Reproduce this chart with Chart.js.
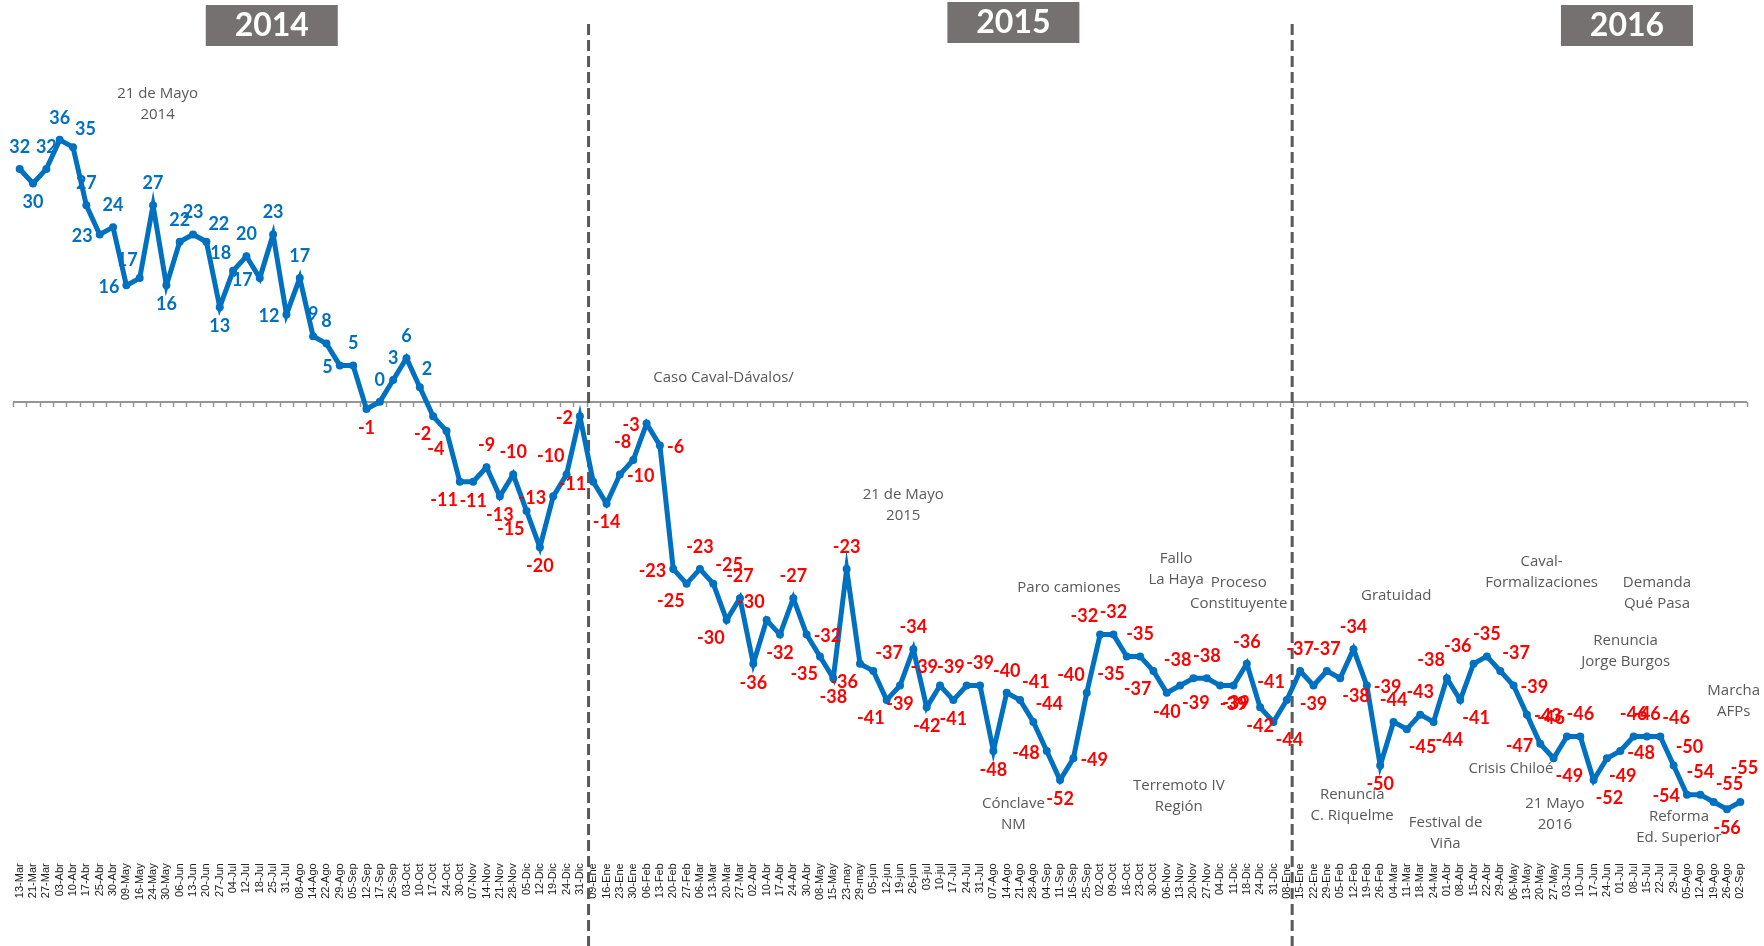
<!DOCTYPE html>
<html>
<head>
<meta charset="utf-8">
<script src="https://cdn.jsdelivr.net/npm/chart.js@4.4.1/dist/chart.umd.min.js"></script>
<style>
  html, body { margin: 0; padding: 0; background: #fff; }
</style>
</head>
<body>
<canvas id="myChart" width="1764" height="946"></canvas>
<script>
// Data

const labels2014 = ['13-Mar', '21-Mar', '27-Mar', '03-Abr', '10-Abr', '17-Abr', '25-Abr', '30-Abr', '09-May', '16-May',
  '24-May', '30-May', '06-Jun', '13-Jun', '20-Jun', '27-Jun', '04-Jul', '12-Jul', '18-Jul', '25-Jul', '31-Jul',
  '08-Ago', '14-Ago', '22-Ago', '29-Ago', '05-Sep', '12-Sep', '17-Sep', '26-Sep', '03-Oct', '10-Oct', '17-Oct',
  '24-Oct', '30-Oct', '07-Nov', '14-Nov', '21-Nov', '28-Nov', '05-Dic', '12-Dic', '19-Dic', '24-Dic', '31-Dic'];
const labels2015 = ['09-Ene', '16-Ene', '23-Ene', '30-Ene', '06-Feb', '13-Feb', '20-Feb', '27-Feb', '06-Mar', '13-Mar',
  '20-Mar', '27-Mar', '02-Abr', '10-Abr', '17-Abr', '24-Abr', '30-Abr', '08-May', '15-May', '23-may', '29-may',
  '05-jun', '12-jun', '19-jun', '26-jun', '03-jul', '10-jul', '17-Jul', '24-Jul', '31-Jul', '07-Ago', '14-Ago',
  '21-Ago', '28-Ago', '04-Sep', '11-Sep', '16-Sep', '25-Sep', '02-Oct', '09-Oct', '16-Oct', '23-Oct', '30-Oct',
  '06-Nov', '13-Nov', '20-Nov', '27-Nov', '04-Dic', '11-Dic', '18-Dic', '24-Dic', '31-Dic'];
const labels2016 = ['08-Ene', '15-Ene', '22-Ene', '29-Ene', '05-Feb', '12-Feb', '19-Feb', '26-Feb', '04-Mar', '11-Mar',
  '18-Mar', '24-Mar', '01-Abr', '08-Abr', '15-Abr', '22-Abr', '29-Abr', '06-May', '13-May', '20-May', '27-May',
  '03-Jun', '10-Jun', '17-Jun', '24-Jun', '01-Jul', '08-Jul', '15-Jul', '22-Jul', '29-Jul', '05-Ago', '12-Ago',
  '19-Ago', '26-Ago', '02-Sep'];

const values2014 = [32, 30, 32, 36, 35, 27, 23, 24, 16, 17, 27, 16, 22, 23, 22, 13, 18, 20, 17, 23, 12,
  17, 9, 8, 5, 5, -1, 0, 3, 6, 2, -2, -4, -11, -11, -9, -13, -10, -15, -20, -13, -10, -2];
const values2015 = [-11, -14, -10, -8, -3, -6, -23, -25, -23, -25, -30, -27, -36, -30, -32, -27, -32, -35, -38, -23,
  -36, -37, -41, -39, -34, -42, -39, -41, -39, -39, -48, -40, -41, -44, -48, -52, -49, -40, -32, -32,
  -35, -35, -37, -40, -39, -38, -38, -39, -39, -36, -42, -44];
const values2016 = [-41, -37, -39, -37, -38, -34, -39, -50, -44, -45, -43, -44, -38, -41, -36, -35, -37, -39, -43, -47,
  -49, -46, -46, -52, -49, -48, -46, -46, -46, -50, -54, -54, -55, -56, -55];

const years = ['2014', '2015', '2016'];

const categories = labels2014.concat(labels2015, labels2016);
const values = values2014.concat(values2015, values2016);

// Where each value label sits relative to its point (a=above, b=below, l=left, r=right, aa=well above)
const labelSide = (
  'a b a a ar a l a l al a b a a ar b al a l a l a a a l a b a a a ar bl bl bl b a b a bl b l al l ' +
  'l b r al l r l bl a ar bl a b al b a r bl b a bl ar bl b a b al b al a b a ar ar l b r al al a bl a bl b br al a br b a b br ' +
  'al a b a br a r b a br a br al br al a ar r r l br al a br br r a a ar ar l a ar b aa'
).split(' ');

// Decorations (category index / value coordinates)

const yearBoxes = [
  { text: years[0], at: 18.9, top: 5 },
  { text: years[1], at: 74.5, top: 2 },
  { text: years[2], at: 120.5, top: 5 }
];
const yearDividers = [42.65, 95.4];

const notes = [
  { lines: ['21 de Mayo', '2014'], x: 10.34, y: 42.3 },
  { lines: ['Caso Caval-Dávalos/'], x: 52.77, y: 3.26 },
  { lines: ['21 de Mayo', '2015'], x: 66.24, y: -12.83 },
  { lines: ['Paro camiones'], x: 78.67, y: -25.6 },
  { lines: ['Fallo', 'La Haya'], x: 86.7, y: -21.6 },
  { lines: ['Proceso', 'Constituyente'], x: 91.4, y: -24.9 },
  { lines: ['Cónclave', 'NM'], x: 74.5, y: -55.2 },
  { lines: ['Terremoto IV', 'Región'], x: 86.9, y: -52.8 },
  { lines: ['Renuncia', 'C. Riquelme'], x: 99.9, y: -54 },
  { lines: ['Gratuidad'], x: 103.2, y: -26.7 },
  { lines: ['Festival de', 'Viña'], x: 106.9, y: -57.8 },
  { lines: ['Caval-', 'Formalizaciones'], x: 114.1, y: -22.05 },
  { lines: ['Crisis Chiloé'], x: 111.8, y: -50.4 },
  { lines: ['21 Mayo', '2016'], x: 115.1, y: -55.3 },
  { lines: ['Demanda', 'Qué Pasa'], x: 122.75, y: -24.9 },
  { lines: ['Renuncia', 'Jorge Burgos'], x: 120.4, y: -32.8 },
  { lines: ['Marcha', 'AFPs'], x: 128.5, y: -39.75 },
  { lines: ['Reforma', 'Ed. Superior'], x: 124.4, y: -57.1 }
];

// Plugins

// zero axis line with tick marks between categories, plus dashed year dividers
const axisPlugin = {
  id: 'axisDecor',
  beforeDatasetsDraw(chart) {
    const ctx = chart.ctx;
    const xs = chart.scales.x;
    const ys = chart.scales.y;
    const y0 = Math.round(ys.getPixelForValue(0));
    ctx.save();
    ctx.strokeStyle = '#969696';
    ctx.lineWidth = 2;
    ctx.beginPath();
    ctx.moveTo(xs.left, y0);
    ctx.lineTo(xs.right, y0);
    ctx.stroke();
    ctx.lineWidth = 1.5;
    ctx.beginPath();
    for (let i = 0; i <= categories.length; i++) {
      const px = Math.round(xs.getPixelForValue(i - 0.5)) + 0.5;
      ctx.moveTo(px, y0);
      ctx.lineTo(px, y0 + 5);
    }
    ctx.stroke();

    ctx.strokeStyle = '#595959';
    ctx.lineWidth = 3;
    ctx.setLineDash([11, 5]);
    yearDividers.forEach(function (at) {
      const px = xs.getPixelForValue(at);
      ctx.beginPath();
      ctx.moveTo(px, 24);
      ctx.lineTo(px, chart.height);
      ctx.stroke();
    });
    ctx.restore();
  }
};

const pointLabelPlugin = {
  id: 'pointLabels',
  afterDatasetsDraw(chart) {
    const ctx = chart.ctx;
    const meta = chart.getDatasetMeta(0);
    ctx.save();
    ctx.font = 'bold 18px Lato';
    ctx.textAlign = 'center';
    ctx.textBaseline = 'middle';
    meta.data.forEach(function (pt, i) {
      const v = values[i];
      const txt = String(v);
      const half = ctx.measureText(txt).width / 2;
      const side = labelSide[i] || 'a';
      let dx = 0;
      let dy = 0;
      if (side === 'a') dy = -22;
      else if (side === 'aa') { dx = 4; dy = -34; }
      else if (side === 'b') dy = 19;
      else if (side === 'l') { dx = -(half + 7); dy = 2; }
      else if (side === 'r') { dx = half + 7; dy = 2; }
      else if (side === 'al') { dx = -(half + 2); dy = -18; }
      else if (side === 'ar') { dx = half + 2; dy = -18; }
      else if (side === 'bl') { dx = -(half + 2); dy = 18; }
      else if (side === 'br') { dx = half + 2; dy = 18; }
      ctx.fillStyle = v < 0 ? '#FF0000' : '#0070C0';
      ctx.fillText(txt, pt.x + dx, pt.y + dy);
    });
    ctx.restore();
  }
};

const decorPlugin = {
  id: 'decor',
  afterDraw(chart) {
    const ctx = chart.ctx;
    const xs = chart.scales.x;
    const ys = chart.scales.y;
    ctx.save();

    // year boxes
    yearBoxes.forEach(function (b) {
      const cx = xs.getPixelForValue(b.at);
      ctx.fillStyle = '#767171';
      ctx.fillRect(cx - 66, b.top, 132, 41);
      ctx.fillStyle = '#ffffff';
      ctx.font = 'bold 32px Lato';
      ctx.textAlign = 'center';
      ctx.textBaseline = 'middle';
      ctx.fillText(b.text, cx, b.top + 21);
    });

    // event notes
    ctx.fillStyle = '#595959';
    ctx.font = '15px "Open Sans"';
    ctx.textAlign = 'center';
    ctx.textBaseline = 'middle';
    notes.forEach(function (n) {
      const cx = xs.getPixelForValue(n.x);
      const cy = ys.getPixelForValue(n.y);
      n.lines.forEach(function (line, k) {
        ctx.fillText(line, cx, cy + k * 21);
      });
    });
    ctx.restore();
  }
};

// Chart

const ctx = document.getElementById('myChart').getContext('2d');
const myChart = new Chart(ctx, {
  type: 'line',
  data: {
    labels: categories,
    datasets: [{
      data: values,
      borderColor: '#0070C0',
      backgroundColor: '#0070C0',
      borderWidth: 5,
      pointRadius: 4,
      pointBorderWidth: 0,
      pointBackgroundColor: '#0070C0',
      tension: 0,
      clip: false
    }]
  },
  options: {
    responsive: false,
    animation: false,
    layout: { padding: { top: 38, left: 13, right: 17, bottom: 43 } },
    plugins: {
      legend: { display: false },
      tooltip: { enabled: false }
    },
    scales: {
      x: {
        offset: true,
        grid: { display: false, drawTicks: true, tickLength: 22 },
        border: { display: false },
        ticks: {
          autoSkip: false,
          maxRotation: 90,
          minRotation: 90,
          padding: 3,
          color: '#1a1a1a',
          font: { family: 'Liberation Sans', size: 11 }
        }
      },
      y: {
        display: false,
        min: -60,
        max: 50
      }
    }
  },
  plugins: [axisPlugin, pointLabelPlugin, decorPlugin]
});
</script>
</body>
</html>
